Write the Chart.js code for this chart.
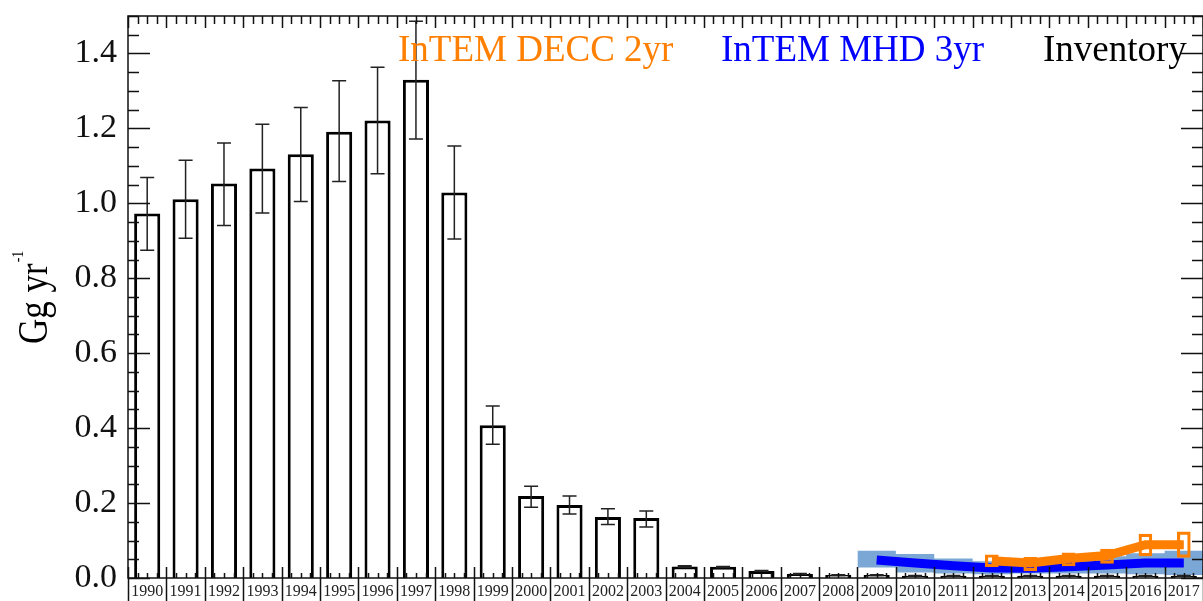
<!DOCTYPE html>
<html>
<head>
<meta charset="utf-8">
<script src="https://cdn.jsdelivr.net/npm/chart.js@4.4.1/dist/chart.umd.min.js"></script>
<style>
  html, body { margin: 0; padding: 0; background: #fff; }
  #chart { display: block; }
</style>
</head>
<body>
<canvas id="chart" width="1203" height="601"></canvas>
<script>
// ---- data (Gg/yr) ----
const years = ['1990', '1991', '1992', '1993', '1994', '1995', '1996', '1997', '1998', '1999',
    '2000', '2001', '2002', '2003', '2004', '2005', '2006', '2007', '2008', '2009',
    '2010', '2011', '2012', '2013', '2014', '2015', '2016', '2017'];

const inventory = [0.973, 1.011, 1.053, 1.093, 1.131, 1.191, 1.221, 1.330, 1.029, 0.408,
    0.219, 0.195, 0.163, 0.160, 0.031, 0.030, 0.019, 0.011, 0.008, 0.008,
    0.006, 0.006, 0.006, 0.006, 0.006, 0.006, 0.006, 0.006];
const inventoryLow = [0.875, 0.907, 0.941, 0.974, 1.005, 1.058, 1.079, 1.172, 0.905, 0.357,
    0.189, 0.171, 0.143, 0.136, 0.029, 0.028, 0.018, 0.010, 0.007, 0.007,
    0.005, 0.005, 0.005, 0.005, 0.005, 0.005, 0.005, 0.005];
const inventoryHigh = [1.069, 1.115, 1.161, 1.211, 1.256, 1.327, 1.363, 1.486, 1.153, 0.459,
    0.245, 0.219, 0.185, 0.179, 0.033, 0.031, 0.020, 0.012, 0.009, 0.009,
    0.007, 0.007, 0.007, 0.007, 0.007, 0.007, 0.007, 0.007];

const mhdYears = [2009, 2010, 2011, 2012, 2013, 2014, 2015, 2016, 2017];
const mhd3yr = [0.048, 0.040, 0.033, 0.027, 0.026, 0.030, 0.035, 0.040, 0.040];
const mhdLow = [0.028, 0.015, 0.012, 0.010, 0.012, 0.012, 0.012, 0.010, 0.008];
const mhdHigh = [0.073, 0.064, 0.052, 0.045, 0.044, 0.050, 0.058, 0.066, 0.073];

const deccYears = [2012, 2013, 2014, 2015, 2016, 2017];
const decc2yr = [0.046, 0.040, 0.052, 0.060, 0.089, 0.089];
const deccLow = [0.030, 0.019, 0.032, 0.039, 0.059, 0.055];
const deccHigh = [0.062, 0.055, 0.067, 0.077, 0.117, 0.123];

const yTickValues = [0, 0.2, 0.4, 0.6, 0.8, 1.0, 1.2, 1.4];

const ORANGE = '#ff7f00';
const BLUE = '#0000ff';
const BAND = '#7ba7d6';
const SERIF = "'Liberation Serif', 'DejaVu Serif', serif";

// series on the category axis (null where there is no value)
const onYears = (srcYears, values) => years.map(y => {
    const i = srcYears.indexOf(+y);
    return i >= 0 ? values[i] : null;
});
// stepped band on the hidden linear year axis, one step per year
const steps = (values) => {
    const pts = mhdYears.map((y, i) => ({ x: y - 0.5, y: values[i] }));
    pts.push({ x: mhdYears[mhdYears.length - 1] + 0.5, y: values[values.length - 1] });
    return pts;
};

/**
 * Frame with inward ticks, year separators, error bars, legend and axis title
 */
const decorPlugin = {
    id: 'decor',
    afterDatasetsDraw(chart) {
        const { ctx, chartArea: { left, right, top, bottom }, scales: { y, xb } } = chart;
        ctx.save();

        // inventory error bars
        ctx.strokeStyle = '#222';
        ctx.lineWidth = 1.5;
        chart.getDatasetMeta(3).data.forEach((bar, i) => {
            const y1 = y.getPixelForValue(inventoryLow[i]);
            const y2 = y.getPixelForValue(inventoryHigh[i]);
            ctx.beginPath();
            ctx.moveTo(bar.x, y1); ctx.lineTo(bar.x, y2);
            ctx.moveTo(bar.x - 7, y1); ctx.lineTo(bar.x + 7, y1);
            ctx.moveTo(bar.x - 7, y2); ctx.lineTo(bar.x + 7, y2);
            ctx.stroke();
        });

        // frame
        ctx.strokeStyle = '#111';
        ctx.lineWidth = 1.5;
        ctx.strokeRect(left, top, right - left, bottom - top);

        // left / right ticks every 0.05, long every 0.2
        ctx.beginPath();
        for (let i = 0; i <= 30; i++) {
            const py = Math.round(y.getPixelForValue(i * 0.05)) + 0.5;
            const len = i % 4 === 0 ? 22 : 11;
            ctx.moveTo(left, py); ctx.lineTo(left + len, py);
            ctx.moveTo(right, py); ctx.lineTo(right - len, py);
        }
        // top / bottom ticks, quarter-year minor
        for (let i = 0; i <= years.length * 4; i++) {
            const px = Math.round(xb.getPixelForValue(1989.5 + i / 4)) + 0.5;
            if (i % 4 === 0) {
                ctx.moveTo(px, top); ctx.lineTo(px, top + 12);
                ctx.moveTo(px, bottom - 11); ctx.lineTo(px, chart.height);
            } else {
                ctx.moveTo(px, top); ctx.lineTo(px, top + 8);
                ctx.moveTo(px, bottom); ctx.lineTo(px, bottom - 5);
            }
        }
        ctx.stroke();
        ctx.restore();
    },
    afterDraw(chart) {
        const { ctx } = chart;
        ctx.save();

        // legend
        ctx.font = '37px ' + SERIF;
        ctx.textBaseline = 'alphabetic';
        ctx.textAlign = 'left';
        ctx.fillStyle = ORANGE;
        ctx.fillText('InTEM DECC 2yr', 398, 61);
        ctx.fillStyle = BLUE;
        ctx.fillText('InTEM MHD 3yr', 721, 61);
        ctx.fillStyle = '#000';
        ctx.fillText('Inventory', 1043, 61);

        // y axis title with superscript
        ctx.translate(47, 344);
        ctx.rotate(-Math.PI / 2);
        ctx.scale(1, 1.2);
        ctx.font = '35px ' + SERIF;
        ctx.fillText('Gg yr', 0, 0);
        const w = ctx.measureText('Gg yr').width;
        ctx.font = '14px ' + SERIF;
        ctx.fillText('-1', w + 1, -20);
        ctx.restore();
    }
};

const chart = new Chart(document.getElementById('chart'), {
    type: 'bar',
    data: {
        labels: years,
        datasets: [
            {
                label: 'InTEM DECC 2yr range',
                data: years.map(y => {
                    const i = deccYears.indexOf(+y);
                    return i >= 0 ? [deccLow[i], deccHigh[i]] : null;
                }),
                grouped: false,
                barThickness: 13,
                backgroundColor: 'rgba(0,0,0,0)',
                borderColor: ORANGE,
                borderWidth: 2.5,
                borderSkipped: false,
                order: 0
            },
            {
                type: 'line',
                label: 'InTEM DECC 2yr',
                data: onYears(deccYears, decc2yr),
                borderColor: ORANGE,
                borderWidth: 9,
                pointRadius: 0,
                fill: false,
                order: 1
            },
            {
                type: 'line',
                label: 'InTEM MHD 3yr',
                data: onYears(mhdYears, mhd3yr),
                borderColor: BLUE,
                borderWidth: 9,
                pointRadius: 0,
                fill: false,
                order: 2
            },
            {
                label: 'Inventory',
                data: inventory,
                backgroundColor: '#fff',
                borderColor: '#000',
                borderWidth: 3,
                barPercentage: 0.68,
                categoryPercentage: 1.0,
                grouped: false,
                order: 3
            },
            {
                type: 'line',
                label: 'MHD high',
                xAxisID: 'xb',
                data: steps(mhdHigh),
                stepped: true,
                borderWidth: 0,
                borderColor: 'rgba(0,0,0,0)',
                backgroundColor: BAND,
                pointRadius: 0,
                fill: '+1',
                order: 4
            },
            {
                type: 'line',
                label: 'MHD low',
                xAxisID: 'xb',
                data: steps(mhdLow),
                stepped: true,
                borderWidth: 0,
                borderColor: 'rgba(0,0,0,0)',
                pointRadius: 0,
                fill: false,
                order: 5
            }
        ]
    },
    options: {
        responsive: false,
        animation: false,
        devicePixelRatio: 1,
        events: [],
        layout: { padding: { top: 16, right: 0, left: 0, bottom: 0 } },
        plugins: { legend: { display: false }, tooltip: { enabled: false } },
        scales: {
            x: {
                type: 'category',
                offset: true,
                grid: { display: false, drawTicks: false },
                border: { display: false },
                ticks: {
                    font: { family: SERIF, size: 16 },
                    color: '#222',
                    padding: 4,
                    maxRotation: 0,
                    autoSkip: false
                },
                afterFit: (scale) => {
                    scale.height = 23;
                    scale.paddingLeft = 0;
                    scale.paddingRight = 0;
                }
            },
            xb: {
                type: 'linear',
                display: false,
                offset: false,
                bounds: 'ticks',
                min: 1989.5,
                max: 2017.5
            },
            y: {
                min: 0,
                max: 1.5,
                grid: { display: false, drawTicks: false },
                border: { display: false },
                afterBuildTicks: (scale) => {
                    scale.ticks = yTickValues.map(v => ({ value: v }));
                },
                ticks: {
                    font: { family: SERIF, size: 34 },
                    color: '#111',
                    padding: 11,
                    callback: (v) => Number(v).toFixed(1)
                },
                afterFit: (scale) => {
                    scale.width = 128;
                    scale.paddingTop = 0;
                    scale.paddingBottom = 0;
                }
            }
        }
    },
    plugins: [decorPlugin]
});
</script>
</body>
</html>
